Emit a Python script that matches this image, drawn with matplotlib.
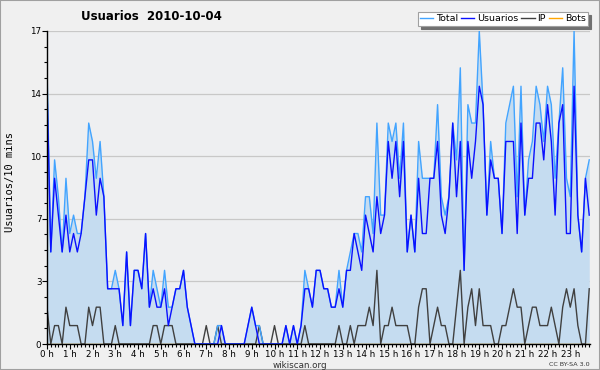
import numpy as np
import matplotlib
matplotlib.use("Agg")
import matplotlib.pyplot as plt
from matplotlib.patches import Rectangle

# values per 10 minutes, 2010-10-04 (144 slots)
total = [15, 5, 10, 8, 5, 9, 6, 7, 6, 6, 8, 12, 11, 9, 11, 8, 3, 3, 4, 3,
         1, 5, 1, 4, 4, 3, 6, 2, 4, 3, 2, 4, 2, 2, 3, 3, 4, 2, 1, 0,
         0, 0, 0, 0, 0, 1, 1, 0, 0, 0, 0, 0, 0, 1, 2, 1, 1, 0, 0, 0,
         0, 0, 0, 1, 0, 1, 0, 1, 4, 3, 2, 4, 4, 3, 3, 2, 2, 4, 2, 4,
         5, 6, 6, 5, 8, 8, 6, 12, 7, 7, 12, 11, 12, 9, 12, 5, 7, 5, 11, 9,
         9, 9, 9, 13, 8, 7, 8, 12, 10, 15, 4, 13, 12, 12, 17, 13, 7, 11, 9, 9,
         6, 12, 13, 14, 8, 14, 7, 10, 11, 14, 13, 11, 14, 13, 9, 12, 15, 9, 8, 17,
         7, 5, 9, 10]
usuarios = [14, 5, 9, 7, 5, 7, 5, 6, 5, 6, 8, 10, 10, 7, 9, 8, 3, 3, 3, 3,
            1, 5, 1, 4, 4, 3, 6, 2, 3, 2, 2, 3, 1, 2, 3, 3, 4, 2, 1, 0,
            0, 0, 0, 0, 0, 0, 1, 0, 0, 0, 0, 0, 0, 1, 2, 1, 0, 0, 0, 0,
            0, 0, 0, 1, 0, 1, 0, 1, 3, 3, 2, 4, 4, 3, 3, 2, 2, 3, 2, 4,
            4, 6, 5, 4, 7, 6, 5, 8, 6, 7, 11, 9, 11, 8, 11, 5, 7, 5, 9, 6,
            6, 9, 9, 11, 7, 6, 8, 12, 8, 11, 4, 11, 9, 11, 14, 13, 7, 10, 9, 9,
            6, 11, 11, 11, 6, 12, 7, 9, 9, 12, 12, 10, 13, 11, 7, 12, 13, 6, 6, 14,
            7, 5, 9, 7]
ip = [2, 0, 1, 1, 0, 2, 1, 1, 1, 0, 0, 2, 1, 2, 2, 0, 0, 0, 1, 0,
      0, 0, 0, 0, 0, 0, 0, 0, 1, 1, 0, 1, 1, 1, 0, 0, 0, 0, 0, 0,
      0, 0, 1, 0, 0, 1, 0, 0, 0, 0, 0, 0, 0, 0, 0, 0, 1, 0, 0, 0,
      1, 0, 0, 0, 0, 0, 0, 0, 1, 0, 0, 0, 0, 0, 0, 0, 0, 1, 0, 0,
      1, 0, 1, 1, 1, 2, 1, 4, 0, 1, 1, 2, 1, 1, 1, 1, 0, 0, 2, 3,
      3, 0, 1, 2, 1, 1, 0, 0, 2, 4, 0, 2, 3, 1, 3, 1, 1, 1, 0, 0,
      1, 1, 2, 3, 2, 2, 0, 1, 2, 2, 1, 1, 1, 2, 1, 0, 2, 3, 2, 3,
      1, 0, 0, 3]
bots = [0] * 144
hour_labels = ["%d h" % h for h in range(24)]

x = np.arange(len(total))

fig = plt.figure(figsize=(6.0, 3.7), dpi=100, facecolor="#f0f0f0")
ax = fig.add_axes([47 / 600, 26 / 370, 543 / 600, 313 / 370])
ax.set_facecolor("#eeeff1")

ax.fill_between(x, total, 0, color="#c5dcf0", lw=0, zorder=1)
ax.plot(x, bots, color="#ffa500", lw=1.0, zorder=2, label="Bots")
ax.plot(x, ip, color="#404040", lw=1.0, zorder=3, label="IP")
ax.plot(x, total, color="#42a4ff", lw=1.0, zorder=4, label="Total")
ax.plot(x, usuarios, color="#0a10ff", lw=1.0, zorder=5, label="Usuarios")

ax.set_xlim(0, 143.2)
ax.set_ylim(0, 17)

yt = np.arange(6) * 3.4
ax.set_yticks(yt)
ax.set_yticklabels(["%d" % round(v) for v in yt])
ax.set_yticks(np.arange(21) * 0.85, minor=True)
ax.set_xticks(np.arange(24) * 6)
ax.set_xticklabels(hour_labels)
ax.set_xticks(np.arange(144), minor=True)
ax.tick_params(axis="both", which="major", direction="out", length=3.5,
               width=0.8, labelsize=6.3, colors="black", pad=0.5)
ax.tick_params(axis="both", which="minor", direction="out", length=2.2,
               width=0.8)
ax.yaxis.grid(True, which="major", color="#c8c8c8", lw=0.9)
ax.set_axisbelow(True)
for s in ["top", "right"]:
    ax.spines[s].set_visible(False)
for s in ["left", "bottom"]:
    ax.spines[s].set_color("black")
    ax.spines[s].set_linewidth(1.0)
    ax.spines[s].set_zorder(6)

h, l = ax.get_legend_handles_labels()
order = [2, 3, 1, 0]
leg = fig.legend([h[k] for k in order], [l[k] for k in order],
                 loc="upper right", bbox_to_anchor=(588 / 600, 358 / 370),
                 ncol=4, fontsize=6.8, frameon=True, fancybox=False,
                 shadow={"color": "#707070", "alpha": 1.0},
                 handlelength=1.4, handletextpad=0.3, columnspacing=0.3,
                 borderpad=0.25, borderaxespad=0)
leg.get_frame().set_edgecolor("#a0a0a0")
leg.get_frame().set_linewidth(0.8)

fig.text(151 / 600, 353 / 370, "Usuarios  2010-10-04", fontsize=8.5,
         fontweight="bold", ha="center", va="center")
fig.text(10 / 600, 188 / 370, "Usuarios/10 mins", rotation=90, fontsize=7.5,
         family="DejaVu Sans Mono", ha="center", va="center")
fig.text(300 / 600, 5 / 370, "wikiscan.org", fontsize=6.3,
         ha="center", va="center", color="#333333")
fig.text(590 / 600, 5 / 370, "CC BY-SA 3.0", fontsize=4.6,
         ha="right", va="center", color="#333333")

fig.patches.append(Rectangle((0, 0), 1, 1, transform=fig.transFigure,
                             fill=False, edgecolor="#a0a0a0", lw=1.5))

fig.savefig("out.png", dpi=100, facecolor=fig.get_facecolor())
